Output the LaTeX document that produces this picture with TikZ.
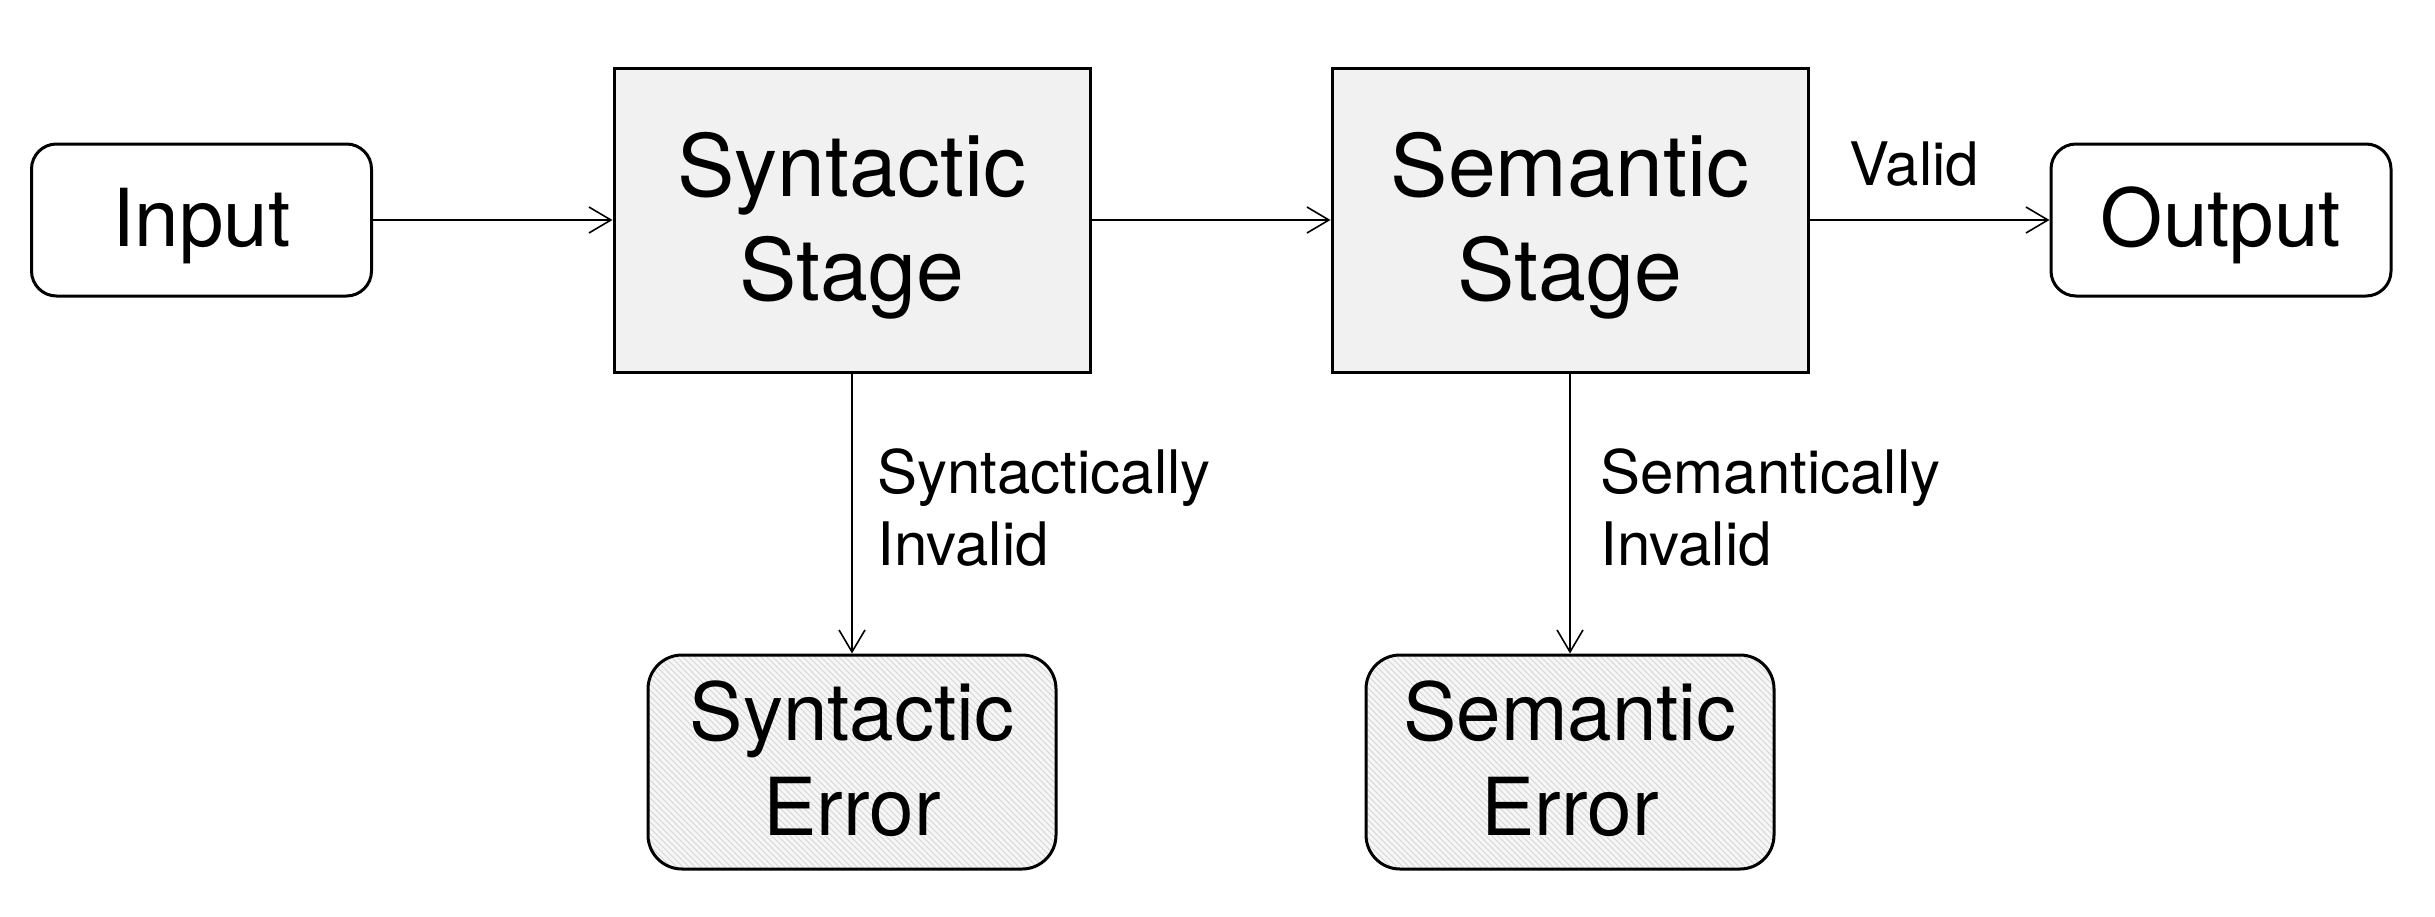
\documentclass[tikz,border=0pt]{standalone}
\usepackage{fontspec}
\setmainfont{TeX Gyre Heros}
\usetikzlibrary{arrows.meta,patterns}
\definecolor{stagefill}{HTML}{F1F1F1}
\definecolor{errfill}{HTML}{F6F6F6}
\definecolor{hatch}{HTML}{D6D6D6}
\tikzset{
  boxline/.style={draw=black, line width=1.5pt, inner sep=0pt},
  iobox/.style={boxline, rounded corners=12.5pt, minimum width=170pt, minimum height=76pt,
    font=\fontsize{40}{48}\selectfont, text height=29pt, text depth=2.3pt},
  stagebox/.style={boxline, fill=stagefill, minimum width=238pt, minimum height=152pt,
    align=center, font=\fontsize{43}{51.75}\selectfont, text height=83.75pt, text depth=3.75pt},
  errbox/.style={boxline, rounded corners=17pt, minimum width=204pt, minimum height=107pt,
    preaction={fill=errfill}, pattern=north west lines, pattern color=hatch,
    align=center, font=\fontsize{40}{47.5}\selectfont, text height=77.1pt, text depth=4.1pt},
  lbl/.style={inner sep=0pt, anchor=base west, align=left, font=\fontsize{30}{36}\selectfont},
  arr/.style={draw=black, line width=0.8pt, -{Straight Barb[length=11pt,width=13pt]}}
}
\begin{document}
\begin{tikzpicture}[x=0.5pt,y=-0.5pt]
\useasboundingbox (0,0) rectangle (2435,916);
\node[iobox] (in) at (201.5,220) {Input};
\node[stagebox] (syn) at (852,220) {Syntactic\\Stage};
\node[stagebox] (sem) at (1570,220) {Semantic\\Stage};
\node[iobox] (out) at (2221,220) {Output};
\node[errbox] (synerr) at (852,762) {Syntactic\\Error};
\node[errbox] (semerr) at (1570,762) {Semantic\\Error};
\draw[arr] (in) -- (syn);
\draw[arr] (syn) -- (sem);
\draw[arr] (sem) -- (out);
\draw[arr] (syn.south) -- (synerr.north);
\draw[arr] (sem.south) -- (semerr.north);
\node[lbl] (valid) at (1849,185) {Valid};
\node[lbl] (synlbl) at (877,565) {Syntactically\\Invalid};
\node[lbl] (semlbl) at (1600,565) {Semantically\\Invalid};
\end{tikzpicture}
\end{document}
